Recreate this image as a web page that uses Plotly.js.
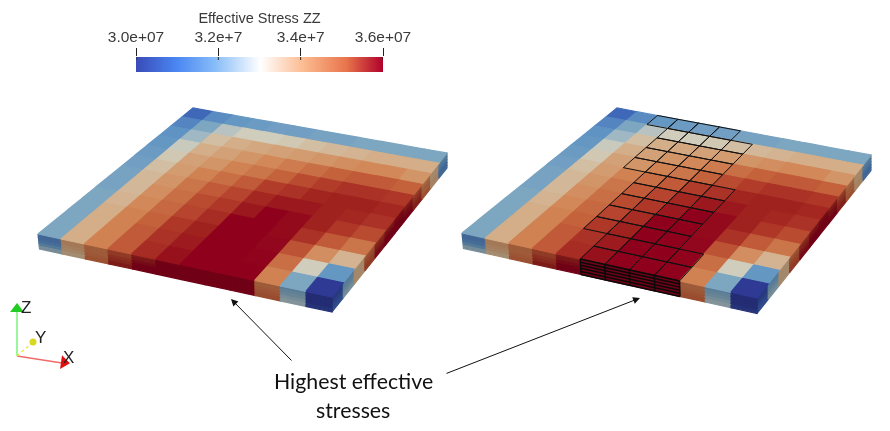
<!DOCTYPE html>
<html><head><meta charset="utf-8">
<script src="https://cdn.plot.ly/plotly-3.0.1.min.js"></script>
<style>html,body{margin:0;padding:0;background:#fff}#chart{width:890px;height:431px;filter:blur(0.35px)}</style>
</head><body><div id="chart"></div>
<script>
// Effective stress ZZ, in units of 1e7. Rows run front (j=0) to back (j=11), columns left to right.
const topStress = [
 [3.17,3.33,3.40,3.46,3.53,3.575,3.60,3.60,3.60,3.40,3.17,3.00],
 [3.17,3.33,3.40,3.46,3.52,3.56,3.60,3.60,3.595,3.43,3.27,3.13],
 [3.17,3.33,3.40,3.45,3.51,3.55,3.60,3.60,3.59,3.47,3.38,3.32],
 [3.17,3.32,3.39,3.44,3.49,3.53,3.60,3.60,3.585,3.52,3.46,3.42],
 [3.16,3.31,3.38,3.43,3.48,3.51,3.565,3.60,3.585,3.55,3.51,3.48],
 [3.16,3.31,3.37,3.42,3.46,3.49,3.54,3.565,3.565,3.55,3.54,3.52],
 [3.15,3.30,3.36,3.40,3.43,3.46,3.50,3.52,3.545,3.55,3.55,3.54],
 [3.14,3.28,3.35,3.37,3.40,3.42,3.45,3.48,3.50,3.52,3.52,3.51],
 [3.13,3.26,3.33,3.35,3.37,3.39,3.41,3.43,3.45,3.46,3.46,3.45],
 [3.12,3.21,3.30,3.33,3.34,3.35,3.36,3.37,3.38,3.39,3.39,3.37],
 [3.10,3.17,3.24,3.27,3.27,3.28,3.30,3.31,3.32,3.33,3.33,3.33],
 [3.06,3.11,3.13,3.14,3.15,3.15,3.16,3.16,3.17,3.17,3.17,3.17]
];
// Five layers, top to bottom, on the front face (by column).
const frontStress = [
 [3.10,3.36,3.42,3.48,3.55,3.59,3.60,3.60,3.60,3.42,3.15,3.00],
 [3.10,3.36,3.42,3.48,3.56,3.60,3.60,3.60,3.60,3.42,3.17,3.00],
 [3.11,3.35,3.42,3.50,3.58,3.60,3.60,3.60,3.60,3.43,3.18,3.00],
 [3.14,3.34,3.43,3.52,3.60,3.60,3.60,3.60,3.60,3.44,3.20,3.00],
 [3.20,3.32,3.44,3.55,3.60,3.60,3.60,3.60,3.60,3.45,3.22,3.01]
];
// Five layers, top to bottom, on the right face (by row, front to back).
const rightStress = [
 [3.02,3.14,3.32,3.42,3.48,3.53,3.56,3.52,3.46,3.38,3.33,3.16],
 [3.02,3.15,3.33,3.44,3.52,3.56,3.58,3.55,3.48,3.40,3.33,3.14],
 [3.03,3.16,3.33,3.46,3.54,3.58,3.59,3.57,3.50,3.42,3.33,3.12],
 [3.04,3.18,3.33,3.47,3.56,3.60,3.60,3.58,3.52,3.42,3.34,3.10],
 [3.05,3.20,3.33,3.48,3.58,3.60,3.60,3.60,3.54,3.44,3.34,3.10]
];
// First outlined column of each row in the right slab (four columns wide), front to back.
const outlineStart = [5,5,4,4,4,4,4,3,3,3,3,2];
const outlineWidth = 4;

const surfaceStops = [[3.00,'#2e3a94'],[3.06,'#3f68b8'],[3.12,'#5f93c4'],[3.17,'#7da6c0'],[3.22,'#a8bcc4'],[3.27,'#d0cdbc'],
 [3.33,'#d3ae88'],[3.39,'#d28858'],[3.45,'#c4623c'],[3.50,'#b23c2a'],[3.55,'#a0221f'],[3.60,'#8f001c']];
const barScale = [[0,'#3a4cb8'],[0.16,'#4a86f2'],[0.32,'#88bdf8'],[0.5,'#ffffff'],[0.68,'#fcb98e'],[0.85,'#e8744c'],[1,'#b0002a']];
const barLevels = [3.0,3.05,3.1,3.15,3.2,3.25,3.3,3.35,3.4,3.45,3.5,3.55,3.6];
const barTicks = [3.0,3.2,3.4,3.6];
const barTickText = ['3.0e+07','3.2e+7','3.4e+7','3.6e+07'];
const sideShade = 0.78;

// Slab views: top-face corners on the page axes [front-left, front-right, back-right, back-left].
const leftView  = {c:[[38,234],[332,297],[447,153],[193,108]], th:15};
const rightView = {c:[[462,233],[757,298],[871,155],[617,108]], th:15.5};

function hex(h){return [1,3,5].map(i=>parseInt(h.substr(i,2),16));}
function colorOf(v,shade){
  let k=0; while(k<surfaceStops.length-2 && v>surfaceStops[k+1][0]) k++;
  const a=surfaceStops[k],b=surfaceStops[k+1],t=Math.min(1,Math.max(0,(v-a[0])/(b[0]-a[0])));
  const A=hex(a[1]),B=hex(b[1]);
  const c=A.map((x,i)=>Math.round((x+(B[i]-x)*t)*(shade||1)));
  return 'rgb('+c.join(',')+')';
}
function makeView(v){
  const [[x0,y0],[x1,y1],[x2,y2],[x3,y3]]=v.c;
  const dx1=x1-x2,dx2=x3-x2,sx=x0-x1+x2-x3,dy1=y1-y2,dy2=y3-y2,sy=y0-y1+y2-y3;
  const d=dx1*dy2-dx2*dy1,g=(sx*dy2-dx2*sy)/d,h=(dx1*sy-sx*dy1)/d;
  const a=x1-x0+g*x1,b=x3-x0+h*x3,c=x0,e=y1-y0+g*y1,f=y3-y0+h*y3,i0=y0;
  return (i,j,k)=>{
    const u=i/12,w=j/12,q=g*u+h*w+1;
    return [(a*u+b*w+c)/q+(k/5)*1.5*(1-u)*(1-w),(e*u+f*w+i0)/q+(k/5)*v.th];
  };
}
const traces=[];
function poly(pts,color){
  traces.push({type:'scatter',mode:'lines',x:pts.map(p=>p[0]).concat(pts[0][0]),y:pts.map(p=>p[1]).concat(pts[0][1]),
    fill:'toself',fillcolor:color,line:{color:color,width:1.2},hoverinfo:'skip'});
}
function slab(v,outlined){
  const P=makeView(v);
  for(let k=0;k<5;k++)for(let j=0;j<12;j++)poly([P(12,j,k),P(12,j+1,k),P(12,j+1,k+1),P(12,j,k+1)],colorOf(rightStress[k][j],sideShade));
  for(let k=0;k<5;k++)for(let i=0;i<12;i++)poly([P(i,0,k),P(i+1,0,k),P(i+1,0,k+1),P(i,0,k+1)],colorOf(frontStress[k][i],sideShade));
  for(let j=11;j>=0;j--)for(let i=0;i<12;i++)poly([P(i,j,0),P(i+1,j,0),P(i+1,j+1,0),P(i,j+1,0)],colorOf(topStress[j][i]));
  if(outlined){
    const X=[],Y=[],FX=[],FY=[];
    const seg=(a,b)=>{X.push(a[0],b[0],null);Y.push(a[1],b[1],null);};
    const fseg=(a,b)=>{FX.push(a[0],b[0],null);FY.push(a[1],b[1],null);};
    outlineStart.forEach((s,j)=>{
      for(let i=s;i<s+outlineWidth;i++){
        seg(P(i,j,0),P(i+1,j,0));seg(P(i+1,j,0),P(i+1,j+1,0));seg(P(i+1,j+1,0),P(i,j+1,0));seg(P(i,j+1,0),P(i,j,0));
      }
    });
    const s0=outlineStart[0];
    for(let k=0;k<=5;k++)fseg(P(s0,0,k),P(s0+outlineWidth,0,k));
    for(let i=s0;i<=s0+outlineWidth;i++)fseg(P(i,0,0),P(i,0,5));
    traces.push({type:'scatter',mode:'lines',x:X,y:Y,line:{color:'#111',width:1},hoverinfo:'skip',connectgaps:false});
    traces.push({type:'scatter',mode:'lines',x:FX,y:FY,line:{color:'#0a0a0a',width:1.5},hoverinfo:'skip',connectgaps:false});
  }
}
slab(leftView,false);
slab(rightView,true);

// Orientation triad.
const origin=[17,356];
function axisLine(end,color,dash){traces.push({type:'scatter',mode:'lines',x:[origin[0],end[0]],y:[origin[1],end[1]],line:{color:color,width:1.3,dash:dash||'solid'},hoverinfo:'skip'});}
function axisHead(at,symbol,color,size,angle){traces.push({type:'scatter',mode:'markers',x:[at[0]],y:[at[1]],marker:{symbol:symbol,color:color,size:size,angle:angle||0},hoverinfo:'skip'});}
axisLine([17,310],'#66f066');axisHead([17,309],'triangle-up','#22cc22',12);
axisLine([62,363],'#f06a6a');axisHead([64,362.5],'triangle-right','#e01010',12,8);
axisLine([32,343],'#e6e640','dot');axisHead([33,342],'circle','#d8d820',7);

// Colour bar: a thin heatmap on its own top axis.
traces.push({type:'heatmap',xaxis:'x2',yaxis:'y2',x:barLevels,y:[0,1],z:[barLevels,barLevels],zmin:3.0,zmax:3.6,zsmooth:'best',
  colorscale:barScale,showscale:false,hoverinfo:'skip'});

const txt=(x,y,t,size,fam,col)=>({x,y,xref:'x',yref:'y',text:t,showarrow:false,font:{family:fam,size:size,color:col},xanchor:'center',yanchor:'middle'});
const arrow=(hx,hy,tx,ty)=>({x:hx,y:hy,ax:tx,ay:ty,xref:'x',yref:'y',axref:'x',ayref:'y',text:'',showarrow:true,arrowhead:2,arrowsize:1.4,arrowwidth:1,arrowcolor:'#111'});
const layout={width:890,height:431,margin:{l:0,r:0,t:0,b:0},paper_bgcolor:'#fff',plot_bgcolor:'#fff',showlegend:false,
  xaxis:{visible:false,range:[0,890],fixedrange:true},yaxis:{visible:false,range:[431,0],fixedrange:true},
  xaxis2:{domain:[136/890,383/890],anchor:'y2',side:'top',range:[3.0,3.6],tickmode:'array',tickvals:barTicks,ticktext:barTickText,ticks:'outside',ticklen:8,tickwidth:1,tickcolor:'#222',
    showgrid:false,zeroline:false,showline:false,ticklabelstandoff:0,tickfont:{family:'Liberation Sans',size:15.5,color:'#3a3a3a'},
    title:{text:'Effective Stress ZZ',standoff:0,font:{family:'Liberation Sans',size:14.5,color:'#3a3a3a'}}},
  yaxis2:{domain:[1-72/431,1-57/431],anchor:'x2',visible:false,range:[0,1]},
  shapes:barTicks.map(t=>({type:'line',xref:'x2',yref:'y2',x0:t,x1:t,y0:0.8,y1:1,line:{color:'#222',width:1}})),
  annotations:[
    arrow(231,299,293,362),arrow(640,298,445,374),
    txt(353,381,'Highest effective',21.3,'Lato','#111'),txt(353,410,'stresses',21.3,'Lato','#111'),
    txt(26,307,'Z',17,'Liberation Sans','#222'),txt(40,337,'Y',17,'Liberation Sans','#222'),txt(68,357,'X',17,'Liberation Sans','#222')
  ]};
Plotly.newPlot('chart',traces,layout,{staticPlot:true,displayModeBar:false});
</script></body></html>
